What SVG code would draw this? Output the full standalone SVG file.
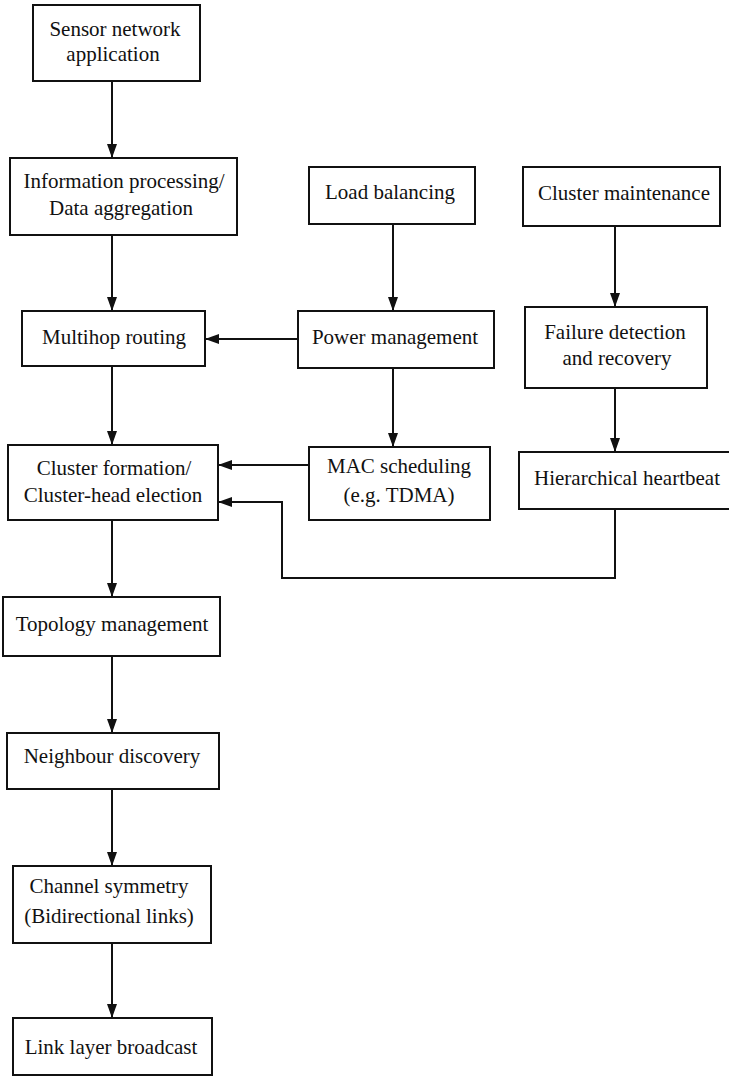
<svg xmlns="http://www.w3.org/2000/svg" width="729" height="1076" viewBox="0 0 729 1076">
<style>
.box{fill:#fff;stroke:#111;stroke-width:2}
.t{font-family:"Liberation Serif","Times New Roman",serif;font-size:21px;fill:#111;text-anchor:middle}
.c{fill:none;stroke:#111;stroke-width:2}
</style>
<defs>
<marker id="ah" viewBox="0 0 14 10" refX="14" refY="5" markerWidth="14" markerHeight="10" markerUnits="userSpaceOnUse" orient="auto">
<path d="M0,0 L14,5 L0,10 Z" fill="#111"/>
</marker>
</defs>
<rect width="729" height="1076" fill="#fff"/>
<g id="connectors">
<line class="c" x1="112" y1="81" x2="112" y2="158" marker-end="url(#ah)"/>
<line class="c" x1="112" y1="235" x2="112" y2="311" marker-end="url(#ah)"/>
<line class="c" x1="393" y1="224" x2="393" y2="311" marker-end="url(#ah)"/>
<line class="c" x1="615" y1="226" x2="615" y2="307" marker-end="url(#ah)"/>
<line class="c" x1="298" y1="339" x2="205" y2="339" marker-end="url(#ah)"/>
<line class="c" x1="112" y1="366" x2="112" y2="445" marker-end="url(#ah)"/>
<line class="c" x1="393" y1="368" x2="393" y2="447" marker-end="url(#ah)"/>
<line class="c" x1="615" y1="388" x2="615" y2="452" marker-end="url(#ah)"/>
<line class="c" x1="309" y1="465" x2="218" y2="465" marker-end="url(#ah)"/>
<polyline class="c" points="615,509 615,578 282,578 282,502 218,502" marker-end="url(#ah)"/>
<line class="c" x1="112" y1="520" x2="112" y2="597" marker-end="url(#ah)"/>
<line class="c" x1="112" y1="656" x2="112" y2="733" marker-end="url(#ah)"/>
<line class="c" x1="112" y1="789" x2="112" y2="866" marker-end="url(#ah)"/>
<line class="c" x1="112" y1="943" x2="112" y2="1018" marker-end="url(#ah)"/>
</g>
<g id="sensor-network-application">
<rect class="box" x="33" y="5" width="167" height="76"/>
<text class="t" x="115" y="36">Sensor network</text>
<text class="t" x="113" y="61">application</text>
</g>
<g id="information-processing">
<rect class="box" x="10" y="158" width="227" height="77"/>
<text class="t" x="124" y="188">Information processing/</text>
<text class="t" x="121" y="215">Data aggregation</text>
</g>
<g id="load-balancing">
<rect class="box" x="309" y="167" width="166" height="57"/>
<text class="t" x="390" y="199">Load balancing</text>
</g>
<g id="cluster-maintenance">
<rect class="box" x="523" y="167" width="197" height="59"/>
<text class="t" x="624" y="200">Cluster maintenance</text>
</g>
<g id="multihop-routing">
<rect class="box" x="22" y="311" width="183" height="55"/>
<text class="t" x="114" y="344">Multihop routing</text>
</g>
<g id="power-management">
<rect class="box" x="298" y="311" width="196" height="57"/>
<text class="t" x="395" y="344">Power management</text>
</g>
<g id="failure-detection">
<rect class="box" x="525" y="307" width="182" height="81"/>
<text class="t" x="615" y="339">Failure detection</text>
<text class="t" x="617" y="365">and recovery</text>
</g>
<g id="cluster-formation">
<rect class="box" x="8" y="445" width="210" height="75"/>
<text class="t" x="114" y="475">Cluster formation/</text>
<text class="t" x="113" y="502">Cluster-head election</text>
</g>
<g id="mac-scheduling">
<rect class="box" x="309" y="447" width="181" height="73"/>
<text class="t" x="399" y="473">MAC scheduling</text>
<text class="t" x="399" y="502">(e.g. TDMA)</text>
</g>
<g id="hierarchical-heartbeat">
<rect class="box" x="519" y="452" width="212" height="57"/>
<text class="t" x="627" y="485">Hierarchical heartbeat</text>
</g>
<g id="topology-management">
<rect class="box" x="3" y="597" width="217" height="59"/>
<text class="t" x="112" y="631">Topology management</text>
</g>
<g id="neighbour-discovery">
<rect class="box" x="7" y="733" width="212" height="56"/>
<text class="t" x="112" y="763">Neighbour discovery</text>
</g>
<g id="channel-symmetry">
<rect class="box" x="13" y="866" width="198" height="77"/>
<text class="t" x="109" y="893">Channel symmetry</text>
<text class="t" x="109" y="923">(Bidirectional links)</text>
</g>
<g id="link-layer-broadcast">
<rect class="box" x="13" y="1018" width="199" height="57"/>
<text class="t" x="111" y="1054">Link layer broadcast</text>
</g>
</svg>
